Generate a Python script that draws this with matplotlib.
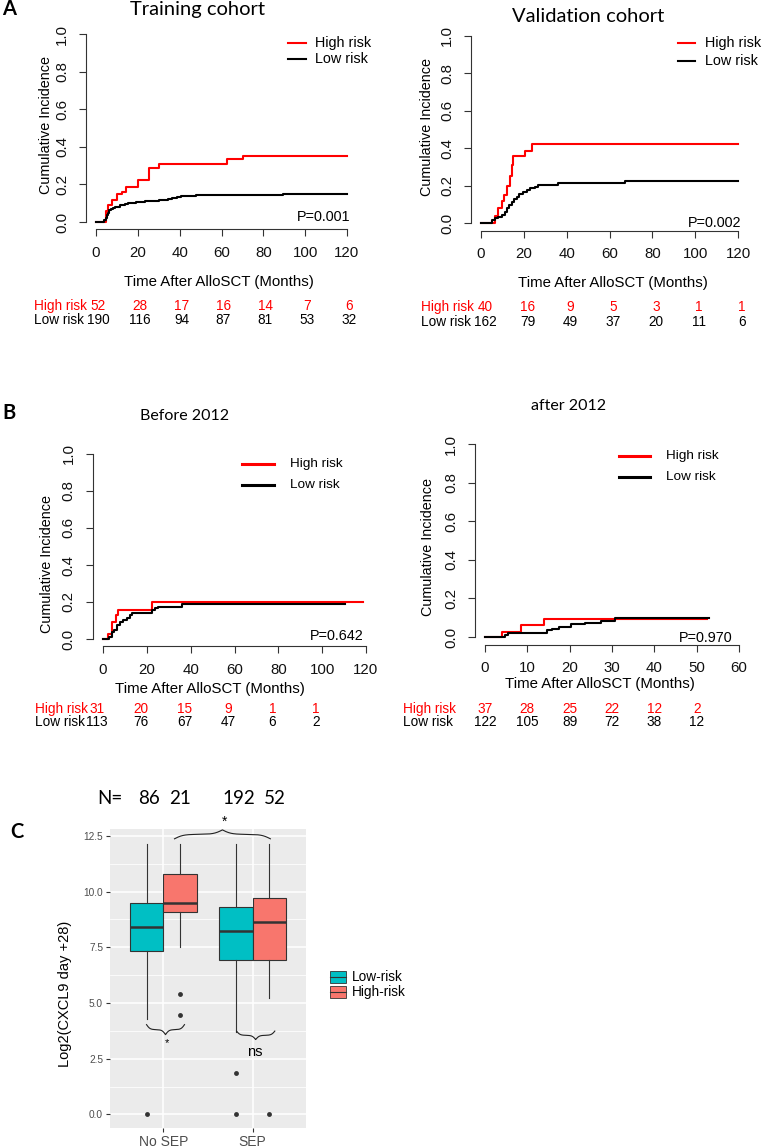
import numpy as np
import matplotlib
matplotlib.use('Agg')
import matplotlib.pyplot as plt
import matplotlib.transforms as mtransforms
from matplotlib.lines import Line2D
from matplotlib.patches import Rectangle

# ---------------- data ----------------
# A: training cohort (time in months, cumulative incidence after each step)
train_high_t = [4.8, 5.9, 7.5, 9.9, 12.6, 14.2, 20.2, 25.5, 30.3, 62.6, 70.4]
train_high_v = [0.058, 0.09, 0.117, 0.147, 0.161, 0.185, 0.223, 0.285, 0.308, 0.333, 0.352]
train_high_end = 120
train_low_t = [4.0, 4.6, 5.2, 5.6, 6.0, 6.5, 7.2, 8.0, 9.0, 10.0, 11.5, 13.0, 14.0, 15.5,
               17.5, 19.0, 21.0, 23.5, 26.0, 30.0, 34.5, 36.5, 38.5, 40.5, 48.0, 89.5]
train_low_v = [0.01, 0.02, 0.035, 0.05, 0.062, 0.066, 0.07, 0.074, 0.078, 0.082, 0.088, 0.093,
               0.097, 0.1, 0.103, 0.106, 0.108, 0.11, 0.114, 0.117, 0.12, 0.126, 0.132, 0.136,
               0.141, 0.148]
train_low_end = 120
train_risk_high = [52, 28, 17, 16, 14, 7, 6]
train_risk_low = [190, 116, 94, 87, 81, 53, 32]

# A: validation cohort
valid_high_t = [6.5, 8.1, 10.0, 10.6, 12.0, 13.6, 14.3, 15.0, 20.5, 23.7]
valid_high_v = [0.035, 0.079, 0.12, 0.15, 0.2, 0.25, 0.31, 0.358, 0.383, 0.42]
valid_high_end = 120
valid_low_t = [5.0, 6.5, 8.1, 9.7, 11.2, 12.3, 13.2, 14.3, 15.6, 16.7, 17.9, 19.8, 21.3,
               22.9, 25.2, 26.8, 31.4, 36.1, 67.3]
valid_low_v = [0.016, 0.025, 0.034, 0.043, 0.06, 0.078, 0.096, 0.114, 0.127, 0.137, 0.155,
               0.168, 0.176, 0.185, 0.194, 0.201, 0.203, 0.212, 0.226]
valid_low_end = 120
valid_risk_high = [40, 16, 9, 5, 3, 1, 1]
valid_risk_low = [162, 79, 49, 37, 20, 11, 6]

# B: before 2012
before_high_t = [2.1, 4.3, 5.8, 7.0, 22.2]
before_high_v = [0.027, 0.094, 0.13, 0.157, 0.2]
before_high_end = 118.5
before_low_t = [2.7, 4.0, 5.2, 6.2, 7.8, 9.3, 10.8, 12.3, 13.4, 22.2, 23.7, 25.2, 35.9]
before_low_v = [0.013, 0.04, 0.049, 0.076, 0.094, 0.103, 0.112, 0.13, 0.139, 0.155, 0.165,
                0.172, 0.187]
before_low_end = 110.2
before_risk_high = [31, 20, 15, 9, 1, 1]
before_risk_low = [113, 76, 67, 47, 6, 2]

# B: after 2012
after_high_t = [4.0, 8.6, 13.9]
after_high_v = [0.025, 0.06, 0.092]
after_high_end = 52.5
after_low_t = [4.7, 5.5, 14.6, 15.8, 17.6, 20.2, 23.6, 27.4, 30.7]
after_low_v = [0.012, 0.022, 0.035, 0.043, 0.052, 0.065, 0.075, 0.085, 0.1]
after_low_end = 52.8
after_risk_high = [37, 28, 25, 22, 12, 2]
after_risk_low = [122, 105, 89, 72, 38, 12]

# C: boxplot summaries of Log2(CXCL9 day +28)
groups = ['No SEP', 'SEP']
low_q1 = [7.35, 6.92]
low_med = [8.43, 8.25]
low_q3 = [9.47, 9.29]
low_whislo = [4.26, 3.68]
low_whishi = [12.14, 12.14]
low_out = [[0.0], [1.86, 0.0]]
high_q1 = [9.08, 6.92]
high_med = [9.49, 8.65]
high_q3 = [10.77, 9.73]
high_whislo = [7.53, 5.22]
high_whishi = [12.14, 12.14]
high_out = [[5.41, 4.45], [0.0]]
n_low = [86, 192]
n_high = [21, 52]

# ---------------- layout helpers ----------------
W, H = 763, 1148
fig = plt.figure(figsize=(W / 100, H / 100), dpi=100)
ARIAL = 'Liberation Sans'
CAL = 'Lato'
RED = '#FF0000'


def frect(l, t, r, b):
    return [l / W, 1 - b / H, (r - l) / W, (b - t) / H]


def put(x, y, s, **kw):
    kw.setdefault('family', ARIAL)
    return fig.text(x / W, 1 - y / H, s, **kw)


def km(box, xmax, xstep, high, low, risk_high, risk_low, risk_times,
       title, title_xy, title_size, pval, p_xy, leg, xlab_xy, ylab_xy, risk_y, risk_x, risk_dx=0):
    ax = fig.add_axes(frect(*box))
    pad = xmax * 0.04
    ax.set_xlim(-pad, xmax + pad)
    ax.set_ylim(-0.04, 1.04)
    ax.patch.set_visible(False)
    for s in ['top', 'right']:
        ax.spines[s].set_visible(False)
    for s in ['left', 'bottom']:
        ax.spines[s].set_linewidth(0.8)
        ax.spines[s].set_color('#333333')
    ax.spines['left'].set_bounds(0, 1)
    ax.spines['bottom'].set_bounds(0, xmax)
    ax.set_xticks(np.arange(0, xmax + 1, xstep))
    yt = np.arange(0, 1.01, 0.2)
    ax.set_yticks(yt)
    ax.set_yticklabels(['%.1f' % v for v in yt], rotation=90, va='center', family=ARIAL)
    for lab in ax.get_xticklabels():
        lab.set_family(ARIAL)
    ax.tick_params(length=5, width=0.8, color='#333333', labelsize=10.8, pad=7, labelcolor='#111111')

    for (t, v, end), col in ((high, RED), (low, 'black')):
        ax.step([0] + t + [end], [0] + v + [v[-1]], where='post', color=col, lw=1.5, clip_on=False)

    put(title_xy[0], title_xy[1], title, ha='center', va='center', fontsize=title_size, family=CAL)
    put(p_xy[0], p_xy[1], pval, ha='right', va='center', fontsize=10.4)
    lx0, lx1, tx, y1, y2, lsize, llw = leg
    for yy, lab, col in ((y1, 'High risk', RED), (y2, 'Low risk', 'black')):
        fig.add_artist(Line2D([lx0 / W, lx1 / W], [1 - yy / H, 1 - yy / H], color=col, lw=llw,
                              transform=fig.transFigure))
        put(tx, yy, lab, ha='left', va='center', fontsize=lsize)
    put(xlab_xy[0], xlab_xy[1], 'Time After AlloSCT (Months)', ha='center', va='center', fontsize=10.8)
    put(ylab_xy[0], ylab_xy[1], 'Cumulative Incidence', ha='center', va='center', rotation=90,
        fontsize=10.4)

    trans = mtransforms.blended_transform_factory(ax.transData, fig.transFigure)
    trans = mtransforms.offset_copy(trans, fig=fig, x=risk_dx, y=0, units='dots')
    for nums, yy, lab, col in ((risk_high, risk_y[0], 'High risk', RED),
                               (risk_low, risk_y[1], 'Low risk', 'black')):
        put(risk_x, yy, lab, ha='left', va='center', fontsize=9.8, color=col)
        for t, n in zip(risk_times, nums):
            ax.text(t, 1 - yy / H, str(n), transform=trans, ha='center', va='center',
                    fontsize=9.8, color=col, family=ARIAL)
    return ax


times120 = list(range(0, 121, 20))

km((86, 26.5, 357, 229.5), 120, 20,
   (train_high_t, train_high_v, train_high_end), (train_low_t, train_low_v, train_low_end),
   train_risk_high, train_risk_low, times120,
   'Training cohort', (197, 10), 14.5, 'P=0.001', (350, 217),
   (288, 306, 315, 43, 59, 10.4, 1.5), (219, 282), (46, 125), (306, 320), 34, risk_dx=2)

km((470.7, 28.5, 748.3, 230.5), 120, 20,
   (valid_high_t, valid_high_v, valid_high_end), (valid_low_t, valid_low_v, valid_low_end),
   valid_risk_high, valid_risk_low, times120,
   'Validation cohort', (588, 17), 14.5, 'P=0.002', (741, 223),
   (678, 695, 705, 43, 61, 10.4, 1.5), (613, 283), (427, 127), (307, 322), 421, risk_dx=4)

km((92.5, 446.6, 376.5, 646.4), 120, 20,
   (before_high_t, before_high_v, before_high_end), (before_low_t, before_low_v, before_low_end),
   before_risk_high, before_risk_low, times120[:6],
   'Before 2012', (185, 416), 11.5, 'P=0.642', (364, 636),
   (242, 274, 290, 464, 485, 9.7, 2.2), (210, 689), (47, 564), (709, 722), 35, risk_dx=-6)

km((474.8, 436.3, 749.2, 644.7), 60, 10,
   (after_high_t, after_high_v, after_high_end), (after_low_t, after_low_v, after_low_end),
   after_risk_high, after_risk_low, list(range(0, 51, 10)),
   'after 2012', (569, 406), 11.5, 'P=0.970', (733, 638),
   (619, 650, 666, 456, 477, 9.7, 2.2), (600, 684), (428, 547), (709, 722), 403)

# panel letters
put(2, 9, 'A', ha='left', va='center', fontsize=14.5, fontweight='bold', family=CAL)
put(2, 413, 'B', ha='left', va='center', fontsize=14.5, fontweight='bold', family=CAL)
put(10, 832, 'C', ha='left', va='center', fontsize=14.5, fontweight='bold', family=CAL)

# ---------------- panel C ----------------
TEAL = '#00BFC4'
SALMON = '#F8766D'
GREY = '#333333'
axc = fig.add_axes(frect(110, 829, 306, 1128))
axc.set_facecolor('#EBEBEB')
for sp in axc.spines.values():
    sp.set_visible(False)

stats = []
for i in range(len(groups)):
    stats.append(dict(med=low_med[i], q1=low_q1[i], q3=low_q3[i], whislo=low_whislo[i],
                      whishi=low_whishi[i], fliers=low_out[i]))
    stats.append(dict(med=high_med[i], q1=high_q1[i], q3=high_q3[i], whislo=high_whislo[i],
                      whishi=high_whishi[i], fliers=high_out[i]))
positions = [1 - 0.1875, 1 + 0.1875, 2 - 0.1875, 2 + 0.1875]
bp = axc.bxp(stats, positions=positions, widths=0.375, patch_artist=True, showcaps=False,
             manage_ticks=False,
             boxprops=dict(edgecolor=GREY, linewidth=0.8),
             medianprops=dict(color=GREY, linewidth=1.8),
             whiskerprops=dict(color=GREY, linewidth=0.8),
             flierprops=dict(marker='o', markersize=3.5, markerfacecolor=GREY,
                             markeredgecolor='none'))
for j, patch in enumerate(bp['boxes']):
    patch.set_facecolor(TEAL if j % 2 == 0 else SALMON)

axc.set_xlim(0.4, 2.6)
axc.set_ylim(-0.61, 12.81)
yt = np.arange(0, 12.6, 2.5)
axc.set_yticks(yt)
axc.set_yticklabels(['%.1f' % v for v in yt], family=ARIAL)
axc.set_yticks(np.arange(1.25, 12.6, 2.5), minor=True)
axc.set_xticks([1, 2])
axc.set_xticklabels(groups, family=ARIAL)
axc.grid(True, which='major', color='white', lw=1.1)
axc.grid(True, which='minor', axis='y', color='white', lw=0.55)
axc.set_axisbelow(True)
axc.tick_params(which='major', length=3, width=0.8, color=GREY, labelcolor='#4D4D4D', pad=2)
axc.tick_params(axis='y', labelsize=7.3)
axc.tick_params(axis='x', labelsize=10)
axc.tick_params(which='minor', length=0)


def brace(ax, x0, x1, y_end, y_tip, b=11):
    # curly brace from x0 to x1; ends at y_end, pointed tip at y_tip
    t = np.linspace(0, 1, 120)
    half = 1 / (1 + np.exp(-b * t)) + 1 / (1 + np.exp(-b * (t - 1))) - 0.5
    half = (half - half[0]) / (half[-1] - half[0])
    prof = np.concatenate([half, half[-2::-1]])
    xs = np.linspace(x0, x1, len(prof))
    ax.plot(xs, y_end + prof * (y_tip - y_end), color='#222222', lw=0.8, clip_on=False)


brace(axc, 1.124, 2.20, 12.37, 12.77)
brace(axc, 0.81, 1.236, 4.03, 3.58)
brace(axc, 1.82, 2.25, 3.74, 3.36)
axc.text(1.685, 13.15, '*', ha='center', va='center', fontsize=10, family=ARIAL, clip_on=False)
axc.text(1.034, 3.22, '*', ha='center', va='center', fontsize=8, family=ARIAL)
axc.text(2.03, 2.8, 'ns', ha='center', va='center', fontsize=10.5, family=ARIAL)

put(65, 994, 'Log2(CXCL9 day +28)', ha='center', va='center', rotation=90, fontsize=10.5)

# counts row
put(97, 799, 'N=', ha='left', va='center', fontsize=13.5, family=CAL)
for xx, n in zip([149, 239], n_low):
    put(xx, 799, str(n), ha='center', va='center', fontsize=13.5, family=CAL)
for xx, n in zip([180, 275], n_high):
    put(xx, 799, str(n), ha='center', va='center', fontsize=13.5, family=CAL)

# legend for panel C
for yy, lab, col in ((977, 'Low-risk', TEAL), (992, 'High-risk', SALMON)):
    fig.add_artist(Rectangle((330 / W, 1 - (yy + 6) / H), 16 / W, 12 / H, facecolor=col,
                             edgecolor=GREY, lw=0.6, transform=fig.transFigure))
    fig.add_artist(Line2D([330 / W, 346 / W], [1 - yy / H, 1 - yy / H], color=GREY, lw=0.8,
                          transform=fig.transFigure))
    put(352, yy, lab, ha='left', va='center', fontsize=9.8)

fig.savefig('out.png', dpi=100, facecolor='white')
